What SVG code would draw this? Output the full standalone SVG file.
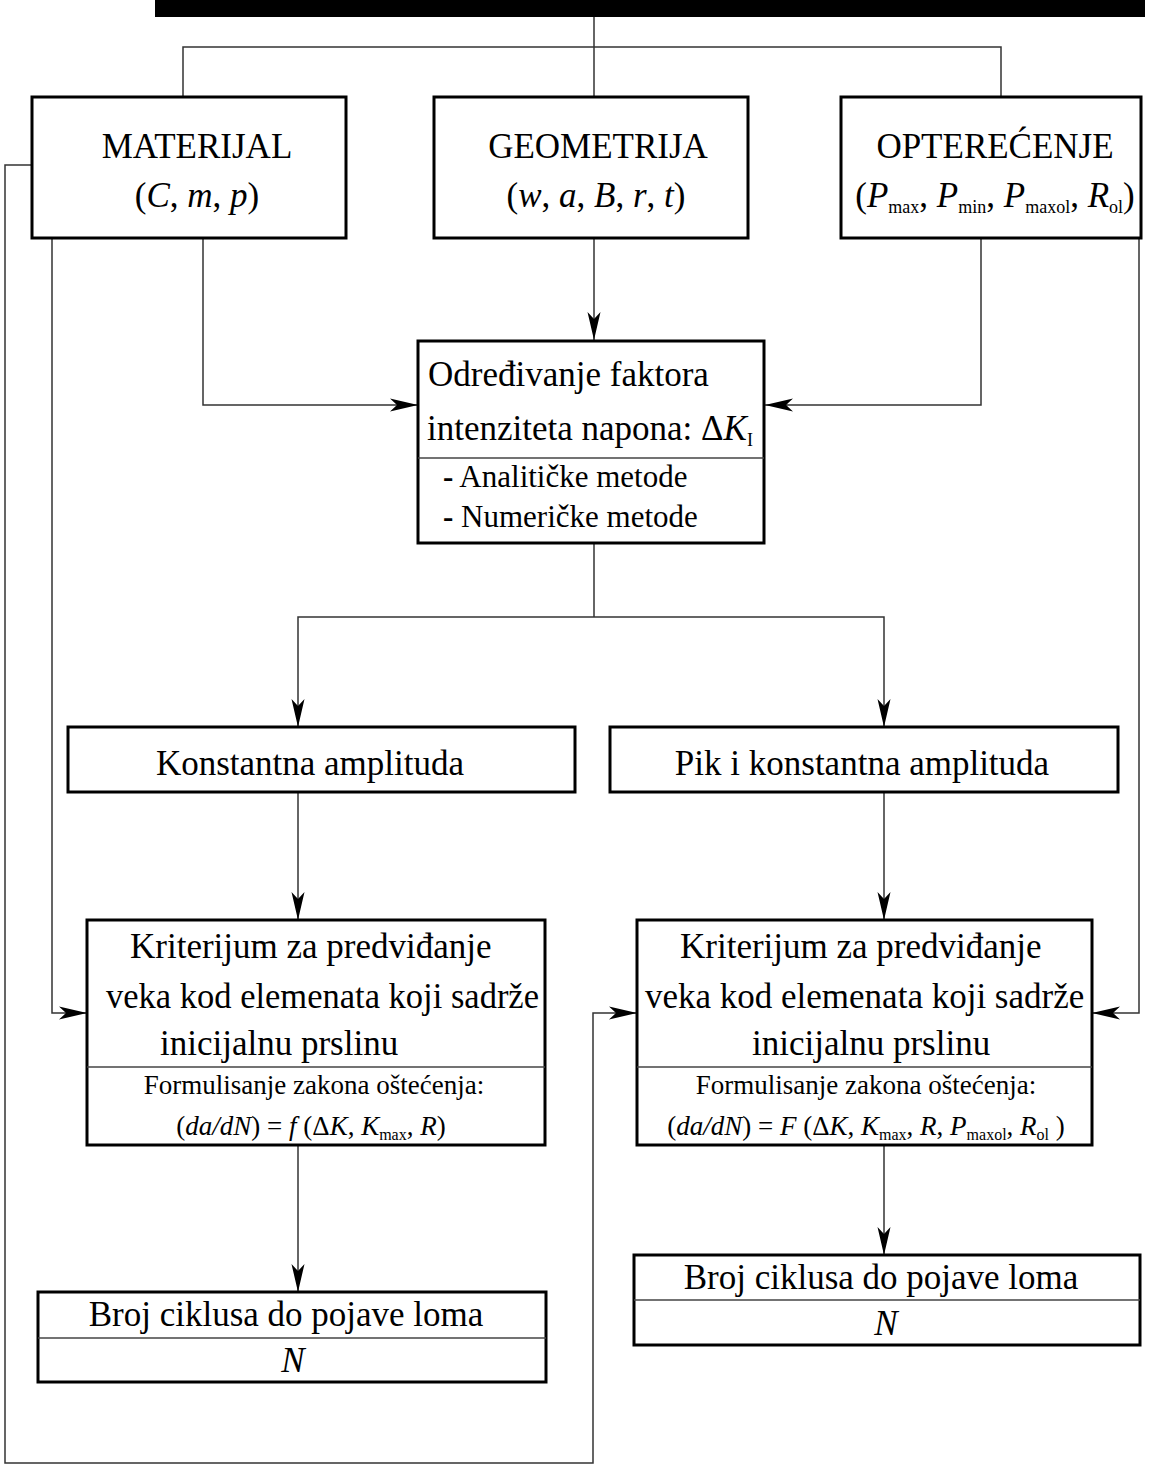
<svg xmlns="http://www.w3.org/2000/svg" width="1160" height="1472" viewBox="0 0 1160 1472">
<style>
.box{fill:#fff;stroke:#000;stroke-width:3}
.div{stroke:#444;stroke-width:1.5}
.con{fill:none;stroke:#333;stroke-width:1.5}
text{font-family:"Times New Roman","Liberation Serif",Tinos,Times,serif;font-style:normal;fill:#000}
.t{font-size:35px}
.s{font-size:31px}
.f{font-size:27px}
.i{font-style:italic}
.m{text-anchor:middle}
</style>
<defs>
<marker id="ah" viewBox="-30 -8 31 16" refX="0" refY="0" markerWidth="31" markerHeight="16" markerUnits="userSpaceOnUse" orient="auto">
<path d="M0,0 L-28,-6.5 L-21,0 L-28,6.5 Z" fill="#000"/>
</marker>
</defs>
<rect id="topbar" x="155" y="0" width="990" height="17" fill="#000"/>
<g id="connectors">
<path class="con" d="M594,17 V97"/>
<path class="con" d="M183,97 V47 H1001 V97"/>
<path class="con" d="M203,238 V405 H418" marker-end="url(#ah)"/>
<path class="con" d="M594,238 V340" marker-end="url(#ah)"/>
<path class="con" d="M981,238 V405 H765" marker-end="url(#ah)"/>
<path class="con" d="M52,238 V1013 H87" marker-end="url(#ah)"/>
<path class="con" d="M1139,238 V1013 H1092" marker-end="url(#ah)"/>
<path class="con" d="M32,165 H5 V1463 H593 V1013 H637" marker-end="url(#ah)"/>
<path class="con" d="M594,543 V617"/>
<path class="con" d="M594,617 H298 V727" marker-end="url(#ah)"/>
<path class="con" d="M594,617 H884 V727" marker-end="url(#ah)"/>
<path class="con" d="M298,792 V920" marker-end="url(#ah)"/>
<path class="con" d="M884,792 V920" marker-end="url(#ah)"/>
<path class="con" d="M298,1145 V1292" marker-end="url(#ah)"/>
<path class="con" d="M884,1145 V1255" marker-end="url(#ah)"/>
</g>
<g id="materijal">
<rect class="box" x="32" y="97" width="314" height="141"/>
<text class="t m" x="197" y="158">MATERIJAL</text>
<text class="t m" x="197" y="207">(<tspan class="i">C</tspan>, <tspan class="i">m</tspan>, <tspan class="i">p</tspan>)</text>
</g>
<g id="geometrija">
<rect class="box" x="434" y="97" width="314" height="141"/>
<text class="t m" x="598" y="158">GEOMETRIJA</text>
<text class="t m" x="596" y="207">(<tspan class="i">w</tspan>, <tspan class="i">a</tspan>, <tspan class="i">B</tspan>, <tspan class="i">r</tspan>, <tspan class="i">t</tspan>)</text>
</g>
<g id="opterecenje">
<rect class="box" x="841" y="97" width="300" height="141"/>
<text class="t m" x="995" y="158">OPTEREĆENJE</text>
<text class="t m" x="995" y="207">(<tspan class="i">P</tspan><tspan font-size="18" dy="6">max</tspan><tspan dy="-6">, </tspan><tspan class="i">P</tspan><tspan font-size="18" dy="6">min</tspan><tspan dy="-6">, </tspan><tspan class="i">P</tspan><tspan font-size="18" dy="6">maxol</tspan><tspan dy="-6">, </tspan><tspan class="i">R</tspan><tspan font-size="18" dy="6">ol</tspan><tspan dy="-6">)</tspan></text>
</g>
<g id="odredjivanje">
<rect class="box" x="418" y="341" width="346" height="202"/>
<line class="div" x1="418" y1="458" x2="764" y2="458"/>
<text class="t" x="428" y="386">Određivanje faktora</text>
<text class="t" x="427" y="440">intenziteta napona: Δ<tspan class="i">K</tspan><tspan font-size="18" dy="6">I</tspan></text>
<text class="s" x="443" y="487"><tspan font-weight="bold">-</tspan> Analitičke metode</text>
<text class="s" x="443" y="527"><tspan font-weight="bold">-</tspan> Numeričke metode</text>
</g>
<g id="konstantna">
<rect class="box" x="68" y="727" width="507" height="65"/>
<text class="t m" x="310" y="775">Konstantna amplituda</text>
</g>
<g id="pik">
<rect class="box" x="610" y="727" width="508" height="65"/>
<text class="t m" x="862" y="775">Pik i konstantna amplituda</text>
</g>
<g id="kriterijum-levo">
<rect class="box" x="87" y="920" width="458" height="225"/>
<line class="div" x1="87" y1="1067" x2="545" y2="1067"/>
<text class="t" x="130" y="958">Kriterijum za predviđanje</text>
<text class="t" x="106" y="1008" textLength="433" lengthAdjust="spacingAndGlyphs">veka kod elemenata koji sadrže</text>
<text class="t" x="160" y="1055">inicijalnu prslinu</text>
<text class="f m" x="314" y="1094">Formulisanje zakona oštećenja:</text>
<text class="f m" x="311" y="1135">(<tspan class="i">da/dN</tspan>) = <tspan class="i">f</tspan> (Δ<tspan class="i">K</tspan>, <tspan class="i">K</tspan><tspan font-size="16" dy="5">max</tspan><tspan dy="-5">, </tspan><tspan class="i">R</tspan>)</text>
</g>
<g id="kriterijum-desno">
<rect class="box" x="637" y="920" width="455" height="225"/>
<line class="div" x1="637" y1="1067" x2="1092" y2="1067"/>
<text class="t" x="680" y="958">Kriterijum za predviđanje</text>
<text class="t" x="645" y="1008">veka kod elemenata koji sadrže</text>
<text class="t" x="752" y="1055">inicijalnu prslinu</text>
<text class="f m" x="866" y="1094">Formulisanje zakona oštećenja:</text>
<text class="f m" x="866" y="1135">(<tspan class="i">da/dN</tspan>) = <tspan class="i">F</tspan> (Δ<tspan class="i">K</tspan>, <tspan class="i">K</tspan><tspan font-size="16" dy="5">max</tspan><tspan dy="-5">, </tspan><tspan class="i">R</tspan>, <tspan class="i">P</tspan><tspan font-size="16" dy="5">maxol</tspan><tspan dy="-5">, </tspan><tspan class="i">R</tspan><tspan font-size="16" dy="5">ol</tspan><tspan dy="-5"> )</tspan></text>
</g>
<g id="broj-levo">
<rect class="box" x="38" y="1292" width="508" height="90"/>
<line class="div" x1="38" y1="1338" x2="546" y2="1338"/>
<text class="t m" x="286" y="1326">Broj ciklusa do pojave loma</text>
<text class="t m i" x="293" y="1372">N</text>
</g>
<g id="broj-desno">
<rect class="box" x="634" y="1255" width="506" height="90"/>
<line class="div" x1="634" y1="1300" x2="1140" y2="1300"/>
<text class="t m" x="881" y="1289">Broj ciklusa do pojave loma</text>
<text class="t m i" x="886" y="1335">N</text>
</g>
</svg>
